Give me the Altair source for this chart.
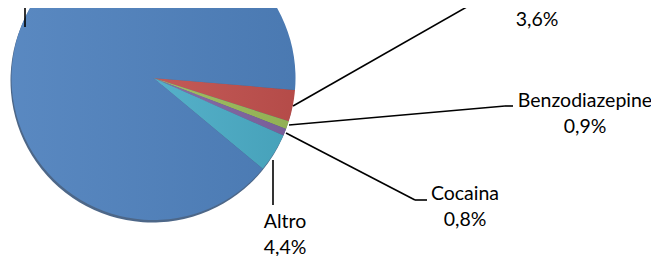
import math
import altair as alt
import pandas as pd

# ---- data ----
keys = ["s_red", "Benzodiazepine", "Cocaina", "Altro", "s_blue"]
names = ["", "Benzodiazepine", "Cocaina", "Altro", ""]
values = [3.6, 0.9, 0.8, 4.4, 90.3]
colors = ["#C0504D", "#9BBB59", "#8064A2", "#4BACC6", "#4F81BD"]

# ---- layout ----
W, H = 643, 248
CX, CY, R = 145.5, 70.0, 142.0
START = math.radians(94.8)

pie_df = pd.DataFrame({"key": keys, "value": values, "order": list(range(len(keys)))})

theta_scale = alt.Scale(range=[START, START + 2 * math.pi])
color_scale = alt.Scale(domain=keys, range=colors)

shadow = alt.Chart(pie_df).mark_arc(outerRadius=R, color="#2E4C73", opacity=0.85).encode(
    theta=alt.Theta("value:Q", stack=True, scale=theta_scale),
    order=alt.Order("order:Q"),
    x=alt.value(CX - 1),
    y=alt.value(CY + 2.5),
)

pie = alt.Chart(pie_df).mark_arc(outerRadius=R).encode(
    theta=alt.Theta("value:Q", stack=True, scale=theta_scale),
    color=alt.Color("key:N", scale=color_scale, legend=None),
    order=alt.Order("order:Q"),
    x=alt.value(CX),
    y=alt.value(CY),
)

# gentle left-to-right shading like the original
shade = alt.Chart(pie_df).mark_arc(
    outerRadius=R,
    color=alt.Gradient(
        gradient="linear", x1=0, y1=0, x2=1, y2=0,
        stops=[alt.GradientStop(color="white", offset=0),
               alt.GradientStop(color="black", offset=1)],
    ),
    opacity=0.06,
).encode(
    theta=alt.Theta("value:Q", stack=True, scale=theta_scale),
    order=alt.Order("order:Q"),
    x=alt.value(CX),
    y=alt.value(CY),
)

# leader lines (annotation geometry, plot coordinates)
segs = pd.DataFrame([
    {"x": 285.0, "y": 98.0, "x2": 471.0, "y2": -8.0},
    {"x": 281.0, "y": 117.0, "x2": 497.0, "y2": 98.0},
    {"x": 497.0, "y": 98.0, "x2": 505.0, "y2": 98.0},
    {"x": 278.0, "y": 125.0, "x2": 407.0, "y2": 192.0},
    {"x": 407.0, "y": 192.0, "x2": 419.0, "y2": 192.0},
    {"x": 265.0, "y": 152.0, "x2": 265.0, "y2": 197.0},
    {"x": 17.0, "y": -8.0, "x2": 17.0, "y2": 19.0},
])

xs = alt.Scale(domain=[0, W], range=[0, W], nice=False, zero=False)
ys = alt.Scale(domain=[0, H], range=[0, H], nice=False, zero=False)

lines = alt.Chart(segs).mark_rule(color="black", strokeWidth=1.6).encode(
    x=alt.X("x:Q", scale=xs, axis=None),
    y=alt.Y("y:Q", scale=ys, axis=None),
    x2="x2:Q",
    y2="y2:Q",
)

def pct(v):
    return f"{v:.1f}".replace(".", ",") + "%"

label_pos = {  # (x, y of name line) in plot coordinates
    "s_red": (529.0, -13.5),
    "Benzodiazepine": (577.0, 93.0),
    "Cocaina": (457.0, 186.0),
    "Altro": (277.0, 214.0),
}
rows = []
for k, n, v in zip(keys, names, values):
    if k not in label_pos:
        continue
    lx, ly = label_pos[k]
    if n:
        rows.append({"x": lx, "y": ly, "t": n})
    rows.append({"x": lx, "y": ly + 25.5, "t": pct(v)})
lab_df = pd.DataFrame(rows)

labels = alt.Chart(lab_df).mark_text(
    font="Lato", fontSize=19.5, color="black", align="center", baseline="middle"
).encode(
    x=alt.X("x:Q", scale=xs, axis=None),
    y=alt.Y("y:Q", scale=ys, axis=None),
    text="t:N",
)

chart = alt.layer(shadow, pie, shade, lines, labels).properties(
    width=W, height=H, autosize="none", padding=0,
).configure_view(stroke=None)

chart.save("out.html", embed_options={"renderer": "svg", "actions": False})
